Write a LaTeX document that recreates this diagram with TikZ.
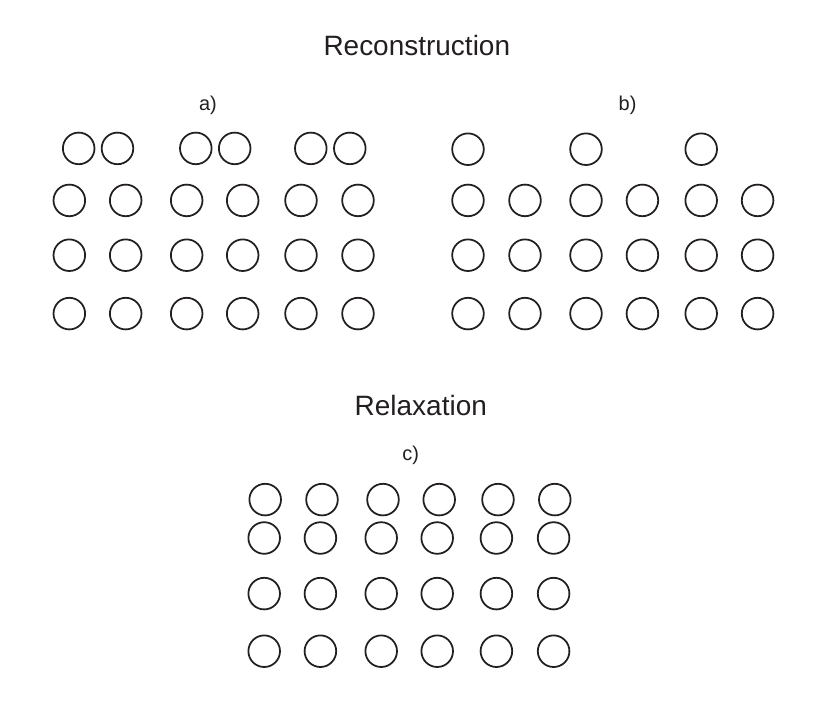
\documentclass[tikz,border=0pt]{standalone}
\usepackage{fontspec}
\setmainfont{Liberation Sans}
\usetikzlibrary{positioning}
\definecolor{inkc}{HTML}{231F20}
\newcommand{\atom}[2]{%
  \node[atom] (#1) at #2 {};
}

\begin{document}
\begin{tikzpicture}[line width=1.2pt,
      atom/.style={circle, draw=inkc, line width=1.25pt,
        minimum size=0.79cm, inner sep=0pt},
      title/.style={inner sep=0pt, text=inkc, font=\fontsize{19.9}{22}\selectfont},
      tag/.style={inner sep=0pt, text=inkc, font=\fontsize{14.2}{16}\selectfont}]
    \useasboundingbox (0,0) rectangle (20.8,-17.625);
    \node[title] (rec) at (10.42,-1.145) {Reconstruction};
    \node[tag] (la) at (5.2,-2.645) {a)};
    \node[tag] (lb) at (15.69,-2.645) {b)};
    % a) paired top row
    \foreach \x [count=\i] in {1.967, 2.937, 4.895, 5.867, 7.77, 8.745}
      \atom{a0\i}{(\x,-3.71)};
    \foreach \r/\y in {1/-5.01, 2/-6.38, 3/-7.84}
      \foreach \x [count=\i] in {1.733, 3.142, 4.667, 6.067, 7.525, 8.95}
        \atom{a\r\i}{(\x,\y)};
    % b) missing-row top
    \foreach \x [count=\i] in {11.7, 14.65, 17.53}
      \atom{b0\i}{(\x,-3.73)};
    \foreach \r/\y in {1/-5.01, 2/-6.38, 3/-7.84}
      \foreach \x [count=\i] in {11.7, 13.125, 14.65, 16.06, 17.53, 18.94}
        \atom{b\r\i}{(\x,\y)};
    \node[title] (rel) at (10.52,-10.125) {Relaxation};
    \node[tag] (lc) at (10.27,-11.375) {c)};
    % c) relaxed top layer
    \foreach \x [count=\i] in {6.63, 8.05, 9.575, 10.98, 12.45, 13.87}
      \atom{c0\i}{(\x,-12.49)};
    \foreach \r/\y in {1/-13.45, 2/-14.84, 3/-16.28}
      \foreach \x [count=\i] in {6.605, 8.01, 9.53, 10.93, 12.41, 13.84}
        \atom{c\r\i}{(\x,\y)};
  \end{tikzpicture}
\end{document}
